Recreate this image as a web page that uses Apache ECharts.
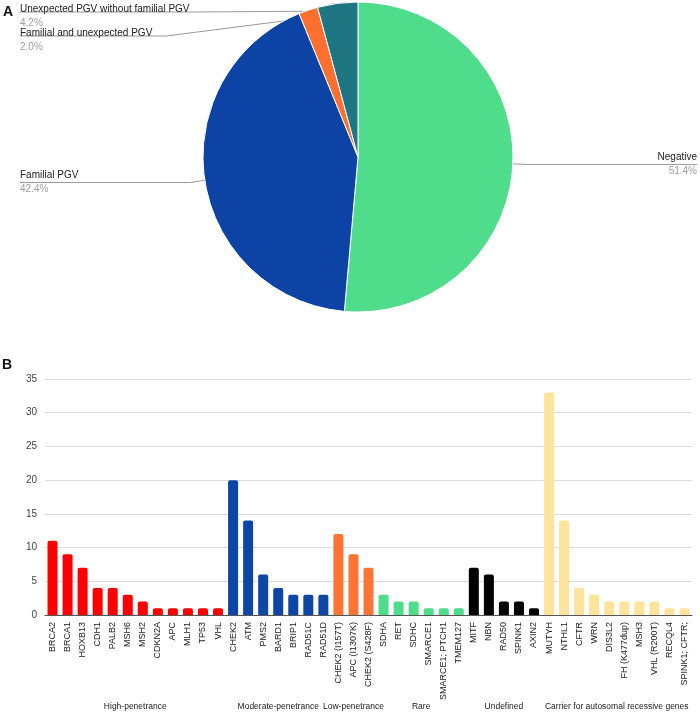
<!DOCTYPE html>
<html>
<head>
<meta charset="utf-8">
<script src="https://cdn.jsdelivr.net/npm/echarts@6/dist/echarts.min.js"></script>
<style>
  html, body {margin: 0; padding: 0; background: #fff;}
  #chart {width: 700px; height: 720px;}
</style>
</head>
<body>
<div id="chart"></div>
<script>
// pie (A)
var pieNames = ['Negative', 'Familial PGV', 'Familial and unexpected PGV', 'Unexpected PGV without familial PGV'];
var pieValues = [51.4, 42.4, 2.0, 4.2];
var pieColors = ['#4fdc8b', '#0e43a6', '#ff6f30', '#1d7682'];

// bars (B)
var genes = [
  'BRCA2', 'BRCA1', 'HOXB13', 'CDH1', 'PALB2', 'MSH6', 'MSH2', 'CDKN2A', 'APC', 'MLH1', 'TP53', 'VHL',
  'CHEK2', 'ATM', 'PMS2', 'BARD1', 'BRIP1', 'RAD51C', 'RAD51D',
  'CHEK2 (I157T)', 'APC (I1307K)', 'CHEK2 (S428F)',
  'SDHA', 'RET', 'SDHC', 'SMARCE1', 'SMARCE1; PTCH1', 'TMEM127',
  'MITF', 'NBN', 'RAD50', 'SPINK1', 'AXIN2',
  'MUTYH', 'NTHL1', 'CFTR', 'WRN', 'DIS3L2', 'FH (K477dup)', 'MSH3', 'VHL (R200T)', 'RECQL4', 'SPINK1; CFTR;'
];
var counts = [
  11, 9, 7, 4, 4, 3, 2, 1, 1, 1, 1, 1,
  20, 14, 6, 4, 3, 3, 3,
  12, 9, 7,
  3, 2, 2, 1, 1, 1,
  7, 6, 2, 2, 1,
  33, 14, 4, 3, 2, 2, 2, 2, 1, 1
];
var groupNames = ['High-penetrance', 'Moderate-penetrance', 'Low-penetrance', 'Rare', 'Undefined', 'Carrier for autosomal recessive genes'];
var groupSizes = [12, 7, 3, 6, 5, 10];
var groupColors = ['#ff0000', '#0e46a5', '#ff7435', '#4fdc8b', '#000000', '#fee39b'];

var barColors = [];
groupSizes.forEach(function (n, g) {
  for (var i = 0; i < n; i++) barColors.push(groupColors[g]);
});

var FONT = 'Liberation Sans, Arial, sans-serif';
var pieCenter = [358, 157];

var myChart = echarts.init(document.getElementById('chart'));
myChart.setOption({
  animation: false,
  textStyle: {fontFamily: FONT},
  grid: {left: 45, right: 8, top: 379, bottom: 105, outerBoundsMode: 'none', containLabel: false},
  xAxis: {
    type: 'category',
    data: genes,
    axisTick: {show: false},
    axisLine: {lineStyle: {color: '#555'}},
    axisLabel: {rotate: 90, interval: 0, fontSize: 9, color: '#222', margin: 7}
  },
  yAxis: {
    type: 'value',
    min: 0, max: 35, interval: 5,
    axisLabel: {fontSize: 10, color: '#444', margin: 8},
    splitLine: {lineStyle: {color: '#dcdcdc'}}
  },
  series: [
    {
      type: 'bar',
      barWidth: 10,
      data: counts.map(function (v, i) {
        return {value: v, itemStyle: {color: barColors[i]}};
      }),
      itemStyle: {borderRadius: [2, 2, 0, 0]}
    },
    {
      type: 'pie',
      center: pieCenter,
      radius: 155,
      startAngle: 90,
      data: pieNames.map(function (n, i) {
        return {name: n, value: pieValues[i], itemStyle: {color: pieColors[i]}};
      }),
      itemStyle: {borderColor: '#fff', borderWidth: 1},
      label: {
        alignTo: 'edge',
        edgeDistance: 20,
        minMargin: 0,
        formatter: function (p) {
          return '{n|' + p.name + '}\n{p|' + p.value.toFixed(1) + '%}';
        },
        rich: {
          n: {fontSize: 10, color: '#222', lineHeight: 14, fontFamily: FONT},
          p: {fontSize: 10, color: '#a0a0a0', lineHeight: 14, fontFamily: FONT}
        }
      },
      labelLine: {length: 15, length2: 0, maxSurfaceAngle: 80, lineStyle: {color: '#9a9a9a', width: 1}},
      labelLayout: function (p) {
        var r = p.labelRect;
        var pts = p.labelLinePoints;
        var isLeft = r.x < 350;
        var out = {};
        if (isLeft) {
          out.x = 20; out.align = 'left';
        } else {
          out.x = 697; out.align = 'right';
        }
        // the crowded labels at the top sit a little lower
        var shift = r.y < 60 ? 4 : 0;
        if (shift) out.dy = shift;
        if (pts) {
          pts[0][0] = pieCenter[0] + (pts[0][0] - pieCenter[0]) * 0.95;
          pts[0][1] = pieCenter[1] + (pts[0][1] - pieCenter[1]) * 0.95;
          pts[1][1] += shift;
          pts[2][1] += shift;
          pts[2][0] = out.x;
          out.labelLinePoints = pts;
        }
        return out;
      }
    }
  ]
});

// panel letters and group captions under the rotated gene names
var graphics = [
  {type: 'text', left: 3, top: 5, style: {text: 'A', font: 'bold 14px ' + FONT, fill: '#111'}},
  {type: 'text', left: 2, top: 358, style: {text: 'B', font: 'bold 14px ' + FONT, fill: '#111'}}
];
var start = 0;
groupSizes.forEach(function (n, g) {
  var x0 = myChart.convertToPixel({xAxisIndex: 0}, start);
  var x1 = myChart.convertToPixel({xAxisIndex: 0}, start + n - 1);
  graphics.push({
    type: 'text',
    x: (x0 + x1) / 2,
    y: 707,
    style: {text: groupNames[g], font: '8.5px ' + FONT, fill: '#222', align: 'center', verticalAlign: 'middle'}
  });
  start += n;
});
myChart.setOption({graphic: graphics});
</script>
</body>
</html>
